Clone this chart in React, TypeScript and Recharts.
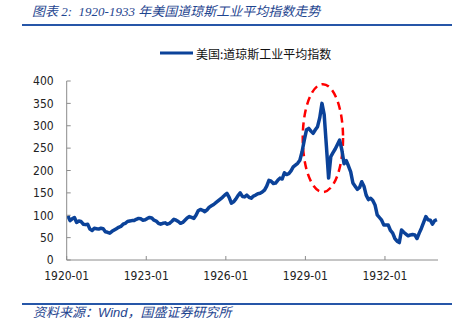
import React from 'react';
import { LineChart, Line, XAxis, YAxis, Legend, ReferenceArea } from 'recharts';

// monthly readings of the Dow Jones Industrial Average, Jan..Dec
const years = [1920, 1921, 1922, 1923, 1924, 1925, 1926, 1927, 1928, 1929, 1930, 1931, 1932, 1933];
const dji1920 = [99, 88, 92, 95, 84, 87, 86, 80, 79, 80, 69, 66];
const dji1921 = [71, 70, 69, 71, 70, 63, 62, 60, 64, 67, 70, 73];
const dji1922 = [75, 80, 82, 86, 87, 88, 88, 91, 93, 92, 89, 90];
const dji1923 = [93, 95, 94, 89, 87, 82, 80, 82, 83, 80, 82, 86];
const dji1924 = [91, 89, 86, 82, 84, 89, 94, 97, 95, 93, 100, 110];
const dji1925 = [113, 111, 108, 112, 118, 121, 124, 128, 132, 136, 140, 145];
const dji1926 = [149, 140, 127, 130, 136, 144, 150, 142, 141, 145, 140, 138];
const dji1927 = [143, 145, 148, 149, 152, 156, 165, 178, 176, 171, 172, 178];
const dji1928 = [183, 181, 195, 191, 193, 199, 208, 212, 216, 223, 242, 268];
const dji1929 = [291, 294, 288, 283, 291, 298, 318, 350, 325, 255, 183, 231];
const dji1930 = [240, 248, 258, 268, 246, 215, 222, 210, 197, 172, 165, 158];
const dji1931 = [162, 175, 165, 145, 135, 138, 133, 123, 101, 95, 89, 78];
const dji1932 = [78, 78, 66, 60, 48, 42, 39, 67, 62, 58, 54, 56];
const dji1933 = [57, 56, 48, 60, 71, 84, 97, 90, 89, 80, 88, 90];
const monthly = [dji1920, dji1921, dji1922, dji1923, dji1924, dji1925, dji1926,
  dji1927, dji1928, dji1929, dji1930, dji1931, dji1932, dji1933];

const xTicks = [1920, 1923, 1926, 1929, 1932];
const yTicks = [0, 50, 100, 150, 200, 250, 300, 350, 400];
const seriesName = '美国:道琼斯工业平均指数';

// circled bubble: date range and index range
const bubbleX = [1928.9, 1930.42];
const bubbleY = [152, 393];

const data = years.flatMap((yr, i) =>
  monthly[i].map((v, m) => ({ t: yr + (m + 0.5) / 12, dji: v }))
);

const axisFont = '"DejaVu Sans Condensed", "Liberation Sans", sans-serif';
const cjk = '"Noto Sans CJK SC", sans-serif';
const blue = '#1f4690';

const Bubble = (props: any) => {
  const { x, y, width, height } = props;
  return (
    <ellipse
      cx={x + width / 2}
      cy={y + height / 2}
      rx={width / 2}
      ry={height / 2}
      fill="none"
      stroke="#ff0000"
      strokeWidth={2.5}
      strokeDasharray="8 5"
    />
  );
};

const renderLegend = (props: any) => (
  <div style={{ display: 'flex', alignItems: 'center', height: 16 }}>
    {(props.payload || []).map((e: any) => (
      <div key={e.value} style={{ display: 'flex', alignItems: 'center' }}>
        <svg width={33} height={6} style={{ marginRight: 3 }}>
          <line x1={0} y1={3} x2={33} y2={3} stroke={e.color} strokeWidth={3} />
        </svg>
        <span style={{ fontSize: 12, color: '#111', fontFamily: cjk }}>{e.value}</span>
      </div>
    ))}
  </div>
);

export default function App() {
  return (
    <div style={{ position: 'fixed', top: 0, left: 0, width: 459, height: 331, background: '#fff', overflow: 'hidden' }}>
      <div style={{ position: 'absolute', left: 32, top: 3, fontSize: 13, fontStyle: 'italic', color: blue, fontFamily: '"Liberation Serif", "Noto Sans CJK SC", serif', whiteSpace: 'nowrap', lineHeight: '18px' }}>
        图表 2:&nbsp; 1920-1933 年美国道琼斯工业平均指数走势
      </div>
      <div style={{ position: 'absolute', left: 22, top: 24, width: 430, height: 1.5, background: '#2656a8' }} />

      <div style={{ position: 'absolute', left: 0, top: 0 }}>
        <LineChart width={459} height={300} data={data} margin={{ top: 81, right: 21, bottom: 10, left: 0 }}>
          <XAxis
            dataKey="t"
            type="number"
            domain={[1920, 1934]}
            ticks={xTicks}
            tickFormatter={(v: number) => `${v}-01`}
            height={30}
            stroke="#8c8c8c"
            tickSize={-4}
            tickMargin={15.5}
            tick={{ fontSize: 12, fill: '#222', fontFamily: axisFont }}
            allowDataOverflow
          />
          <YAxis
            type="number"
            domain={[0, 400]}
            ticks={yTicks}
            width={66.7}
            stroke="#8c8c8c"
            tickSize={-4}
            tickMargin={17}
            tick={{ fontSize: 12, fill: '#222', fontFamily: axisFont }}
          />
          <Legend
            verticalAlign="middle"
            align="center"
            content={renderLegend}
            wrapperStyle={{ top: 45, left: 160, width: 'auto' }}
          />
          <Line
            type="linear"
            dataKey="dji"
            name={seriesName}
            stroke="#0b4299"
            strokeWidth={3.5}
            strokeLinejoin="round"
            dot={false}
            isAnimationActive={false}
          />
          <ReferenceArea
            x1={bubbleX[0]}
            x2={bubbleX[1]}
            y1={bubbleY[0]}
            y2={bubbleY[1]}
            shape={Bubble}
          />
        </LineChart>
      </div>

      <div style={{ position: 'absolute', left: 22, top: 303, width: 430, height: 1.5, background: '#2656a8' }} />
      <div style={{ position: 'absolute', left: 33, top: 304, fontSize: 13, fontStyle: 'italic', color: blue, fontFamily: '"Liberation Sans", "Noto Sans CJK SC", sans-serif', whiteSpace: 'nowrap', lineHeight: '18px' }}>
        资料来源：Wind，国盛证券研究所
      </div>
    </div>
  );
}
